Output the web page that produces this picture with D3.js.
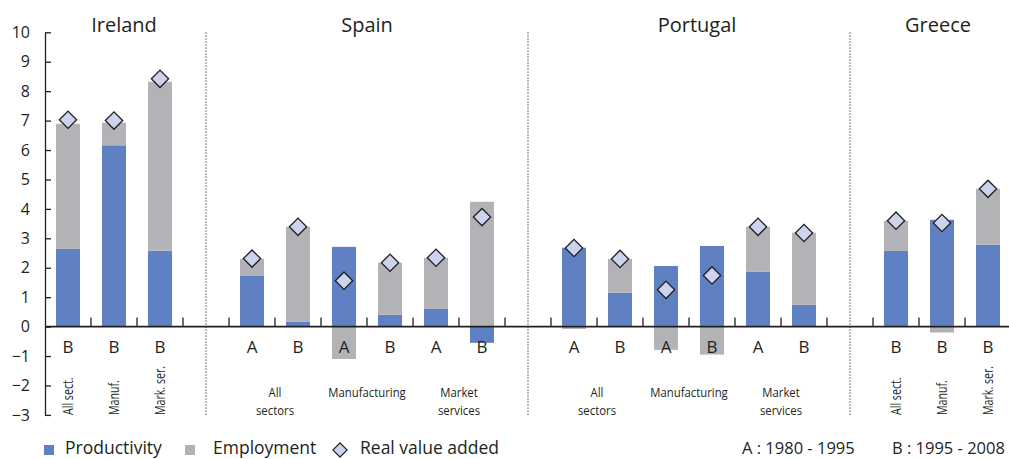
<!DOCTYPE html>
<html>
<head>
<meta charset="utf-8">
<script src="https://cdn.jsdelivr.net/npm/d3@7"></script>
<style>
  body { margin: 0; background: #fff; }
  svg { display: block; font-family: 'Open Sans', sans-serif; fill: #231f20; }
</style>
</head>
<body>
<div id="chart"></div>
<script>
// Countries and bar layout (one entry per bar)
const countries = ['Ireland', 'Spain', 'Portugal', 'Greece'];
const barCountry = ['Ireland', 'Ireland', 'Ireland',
  'Spain', 'Spain', 'Spain', 'Spain', 'Spain', 'Spain',
  'Portugal', 'Portugal', 'Portugal', 'Portugal', 'Portugal', 'Portugal',
  'Greece', 'Greece', 'Greece'];
const barSector = ['All sect.', 'Manuf.', 'Mark. ser.',
  'All sectors', 'All sectors', 'Manufacturing', 'Manufacturing', 'Market services', 'Market services',
  'All sectors', 'All sectors', 'Manufacturing', 'Manufacturing', 'Market services', 'Market services',
  'All sect.', 'Manuf.', 'Mark. ser.'];
const barPeriod = ['B', 'B', 'B',
  'A', 'B', 'A', 'B', 'A', 'B',
  'A', 'B', 'A', 'B', 'A', 'B',
  'B', 'B', 'B'];

// Series values (% per year)
const productivity = [2.64, 6.16, 2.58, 1.72, 0.16, 2.71, 0.40, 0.60, -0.55, 2.68, 1.15, 2.06, 2.74, 1.86, 0.74, 2.57, 3.63, 2.78];
const employment = [4.25, 0.77, 5.74, 0.58, 3.23, -1.10, 1.77, 1.74, 4.24, -0.08, 1.15, -0.79, -0.95, 1.53, 2.45, 1.03, -0.20, 1.90];
const realValueAdded = [7.03, 7.00, 8.42, 2.31, 3.39, 1.56, 2.17, 2.34, 3.72, 2.67, 2.30, 1.25, 1.74, 3.39, 3.18, 3.60, 3.52, 4.68];

const yTicks = [-3, -2, -1, 0, 1, 2, 3, 4, 5, 6, 7, 8, 9, 10];
const seriesNames = ['Productivity', 'Employment', 'Real value added'];
const periodNotes = ['A : 1980 - 1995', 'B : 1995 - 2008'];

const width = 1009, height = 459;
const colors = { prod: '#5f81c3', emp: '#b2b3b6', rva: '#cbd4ec', ink: '#231f20' };

const bars = productivity.map((p, i) => ({
  id: 'bar' + i,
  country: barCountry[i],
  sector: barSector[i],
  period: barPeriod[i],
  prod: p,
  emp: employment[i],
  rva: realValueAdded[i]
}));

// slot list: bars of each country, with one empty slot between countries
const slots = [];
countries.forEach((c, ci) => {
  if (ci > 0) slots.push('gap' + ci);
  bars.filter(b => b.country === c).forEach(b => slots.push(b.id));
});

const x = d3.scaleBand()
  .domain(slots)
  .range([45, 1011])
  .paddingInner(22 / 46)
  .paddingOuter(11 / 46);
const step = x.step();
const slotLeft = k => x(k) - (step - x.bandwidth()) / 2;

const y = d3.scaleLinear().domain([-3, 10]).range([414.9, 32.3]);

const svg = d3.select('#chart').append('svg')
  .attr('width', width)
  .attr('height', height);

// stacked bars (positive up, negative down)
const stack = d3.stack()
  .keys(['prod', 'emp'])
  .offset(d3.stackOffsetDiverging);
const layers = stack(bars);

svg.append('g').selectAll('g')
  .data(layers)
  .join('g')
  .attr('fill', d => colors[d.key])
  .selectAll('rect')
  .data(d => d)
  .join('rect')
  .attr('x', d => x(d.data.id))
  .attr('width', x.bandwidth())
  .attr('y', d => y(Math.max(d[0], d[1])))
  .attr('height', d => Math.abs(y(d[0]) - y(d[1])));

// dotted separators in the gap slots
const gaps = slots.filter(k => k.startsWith('gap'));
svg.append('g').selectAll('line')
  .data(gaps)
  .join('line')
  .attr('x1', d => x(d) + x.bandwidth() / 2)
  .attr('x2', d => x(d) + x.bandwidth() / 2)
  .attr('y1', y(10))
  .attr('y2', y(-3))
  .attr('stroke', '#555')
  .attr('stroke-width', 1)
  .attr('stroke-dasharray', '1.6,1.4');

// zero line with upward ticks at slot boundaries
svg.append('line')
  .attr('x1', 45).attr('x2', width)
  .attr('y1', y(0)).attr('y2', y(0))
  .attr('stroke', colors.ink)
  .attr('stroke-width', 1.6);

const tickXs = [];
countries.forEach(c => {
  const ids = bars.filter(b => b.country === c).map(b => b.id);
  ids.forEach(id => tickXs.push(slotLeft(id)));
  tickXs.push(slotLeft(ids[ids.length - 1]) + step);
});
svg.append('g').selectAll('line')
  .data(tickXs.filter(t => t > 46 && t < width))
  .join('line')
  .attr('x1', d => d).attr('x2', d => d)
  .attr('y1', y(0)).attr('y2', y(0) - 9)
  .attr('stroke', colors.ink)
  .attr('stroke-width', 1.3);

// y axis
const yAxis = d3.axisLeft(y)
  .tickValues(yTicks)
  .tickSizeInner(-6)
  .tickSizeOuter(0)
  .tickPadding(15)
  .tickFormat(d3.format('d'));
const yg = svg.append('g')
  .attr('transform', 'translate(45,0)')
  .call(yAxis);
yg.select('.domain').attr('stroke', colors.ink).attr('stroke-width', 1.3);
yg.selectAll('.tick line').attr('stroke', colors.ink).attr('stroke-width', 1.3);
yg.selectAll('.tick text')
  .attr('fill', colors.ink)
  .style('font-family', "'Open Sans', sans-serif")
  .style('font-size', '16px');

// real value added diamonds
svg.append('g').selectAll('path')
  .data(bars)
  .join('path')
  .attr('d', d3.symbol(d3.symbolSquare, 150))
  .attr('transform', d => `translate(${x(d.id) + x.bandwidth() / 2},${y(d.rva)}) rotate(45)`)
  .attr('fill', colors.rva)
  .attr('stroke', colors.ink)
  .attr('stroke-width', 1.3);

// period letters under each bar
svg.append('g').selectAll('text')
  .data(bars)
  .join('text')
  .attr('x', d => x(d.id) + x.bandwidth() / 2)
  .attr('y', 353)
  .attr('text-anchor', 'middle')
  .style('font-size', '17px')
  .text(d => d.period);

// country titles (small nudges to sit where the original puts them)
const titleNudge = { Ireland: 10, Spain: 0, Portugal: 8, Greece: -4 };
svg.append('g').selectAll('text')
  .data(countries)
  .join('text')
  .attr('x', c => {
    const ids = bars.filter(b => b.country === c).map(b => b.id);
    const mid = (slotLeft(ids[0]) + slotLeft(ids[ids.length - 1]) + step) / 2;
    return mid + titleNudge[c];
  })
  .attr('y', 32)
  .attr('text-anchor', 'middle')
  .style('font-size', '20px')
  .text(c => c);

// sector labels: rotated for single bars, centred two-line for A/B pairs
const sectorGroups = d3.groups(bars, b => b.country + '|' + b.sector);
sectorGroups.forEach(([, grp]) => {
  const first = grp[0], last = grp[grp.length - 1];
  if (grp.length === 1) {
    const cx = x(first.id) + x.bandwidth() / 2;
    svg.append('text')
      .attr('transform', `translate(${cx},415) rotate(-90) scale(0.76,1)`)
      .attr('dy', '0.36em')
      .style('font-size', '14px')
      .text(first.sector);
  } else {
    const cx = (x(first.id) + x(last.id) + x.bandwidth()) / 2;
    const words = first.sector.split(' ');
    words.forEach((w, i) => {
      svg.append('text')
        .attr('transform', `translate(${cx},${397 + i * 18}) scale(0.84,1)`)
        .attr('text-anchor', 'middle')
        .style('font-size', '13.5px')
        .text(w);
    });
  }
});

// legend
const lg = svg.append('g').style('font-size', '17.5px');
lg.append('rect').attr('x', 44).attr('y', 445).attr('width', 10).attr('height', 10).attr('fill', colors.prod);
lg.append('text').attr('x', 65).attr('y', 454).text(seriesNames[0]);
lg.append('rect').attr('x', 185).attr('y', 445).attr('width', 10).attr('height', 10).attr('fill', colors.emp);
lg.append('text').attr('x', 213).attr('y', 454).text(seriesNames[1]);
lg.append('path')
  .attr('d', d3.symbol(d3.symbolSquare, 100))
  .attr('transform', 'translate(340,450) rotate(45)')
  .attr('fill', colors.rva)
  .attr('stroke', colors.ink)
  .attr('stroke-width', 1.2);
lg.append('text').attr('x', 360).attr('y', 454).text(seriesNames[2]);
lg.append('text').attr('x', 742).attr('y', 454).style('font-size', '16.5px').text(periodNotes[0]);
lg.append('text').attr('x', 892).attr('y', 454).style('font-size', '16.5px').text(periodNotes[1]);
</script>
</body>
</html>
